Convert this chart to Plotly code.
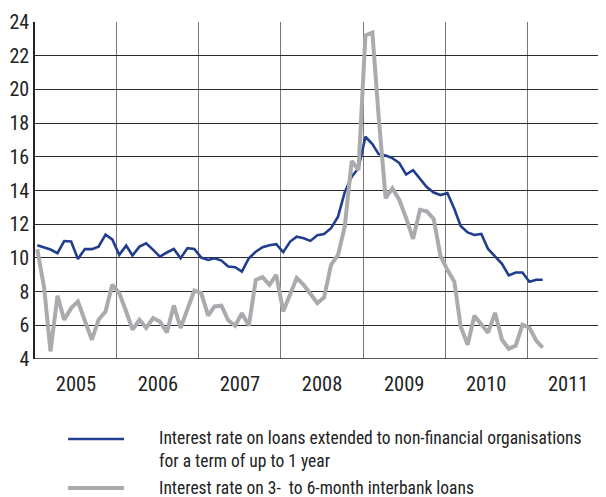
import pandas as pd
import plotly.graph_objects as go

# monthly observations, Jan 2005 onwards (per cent)
loans_rate = [
    10.75, 10.6, 10.5, 10.28, 11.0, 10.97, 9.94, 10.53, 10.52, 10.67, 11.38, 11.1,
    10.18, 10.73, 10.14, 10.67, 10.87, 10.48, 10.08, 10.32, 10.53, 9.98, 10.58, 10.53,
    10.02, 9.88, 9.98, 9.84, 9.49, 9.45, 9.19, 9.98, 10.37, 10.63, 10.75, 10.81,
    10.34, 10.97, 11.26, 11.17, 11.01, 11.35, 11.42, 11.76, 12.45, 13.9, 14.82, 15.32,
    17.19, 16.75, 16.16, 16.08, 15.92, 15.63, 14.95, 15.21, 14.72, 14.21, 13.88, 13.73,
    13.85, 12.9, 11.9, 11.51, 11.36, 11.42, 10.53, 10.08, 9.65, 8.96, 9.13, 9.13,
    8.58, 8.7, 8.7,
]
interbank_rate = [
    10.52, 8.2, 4.45, 7.75, 6.33, 7.02, 7.41, 6.23, 5.14, 6.33, 6.82, 8.4,
    7.91, 6.82, 5.74, 6.33, 5.84, 6.43, 6.23, 5.58, 7.18, 5.84, 7.02, 8.06,
    7.91, 6.57, 7.12, 7.16, 6.3, 5.97, 6.72, 5.97, 8.7, 8.86, 8.4, 8.99,
    6.82, 7.81, 8.8, 8.4, 7.91, 7.32, 7.65, 9.59, 10.18, 11.86, 15.75, 15.21,
    23.2, 23.37, 18.37, 13.54, 14.13, 13.44, 12.37, 11.13, 12.85, 12.76, 12.31, 10.12,
    9.29, 8.58, 5.93, 4.85, 6.57, 6.09, 5.56, 6.74, 5.14, 4.61, 4.79, 6.03,
    5.85, 5.08, 4.67,
]
months = pd.date_range("2005-01-01", periods=len(loans_rate), freq="MS") + pd.Timedelta(days=10)

names = [
    "Interest rate on loans extended to non-financial organisations<br>for a term of up to 1 year",
    "Interest rate on 3-  to 6-month interbank loans",
]
FONT = "Roboto Condensed, DejaVu Sans Condensed, sans-serif"
BLUE = "#213d8f"
GREY = "#aaabae"

fig = go.Figure()
fig.add_trace(go.Scatter(x=months, y=loans_rate, mode="lines", name=names[0],
                         line=dict(color=BLUE, width=2.6)))
fig.add_trace(go.Scatter(x=months, y=interbank_rate, mode="lines", name=names[1],
                         line=dict(color=GREY, width=4)))

# page body adds an 8px offset, so margins are trimmed to compensate
fig.update_layout(
    width=606, height=497,
    margin=dict(l=27, r=8, t=14, b=146),
    plot_bgcolor="white", paper_bgcolor="white",
    showlegend=False,
    font=dict(family=FONT, color="#222222"),
)
fig.update_xaxes(
    type="date", automargin=False,
    range=["2005-01-01", "2011-12-18"],
    dtick="M12", tick0="2005-01-01", tickformat="%Y", ticklabelmode="period",
    showgrid=True, gridcolor="#777777", gridwidth=1.3,
    showline=False, zeroline=False, ticks="",
    tickfont=dict(size=20.5), ticklabelstandoff=10,
)
fig.update_yaxes(
    automargin=False,
    range=[4, 24], dtick=2,
    showgrid=True, gridcolor="#2a2a2a", gridwidth=1,
    showline=True, linecolor="#222222", linewidth=1.5,
    zeroline=False, ticks="",
    tickfont=dict(size=20),
)
# bottom axis line at 4
fig.add_hline(y=4, line=dict(color="#222222", width=1.5))

# hand-drawn legend under the plot
for name, colour, width, ly, ty in [
    (names[0], BLUE, 2.6, -0.2375, -0.2686),
    (names[1], GREY, 4, -0.3828, -0.3825),
]:
    fig.add_shape(type="line", xref="paper", yref="paper",
                  x0=0.058, x1=0.156, y0=ly, y1=ly,
                  line=dict(color=colour, width=width))
    fig.add_annotation(xref="paper", yref="paper", x=0.2137, y=ty,
                       xanchor="left", yanchor="middle", align="left",
                       text=name, showarrow=False,
                       font=dict(size=17.5, family=FONT, color="#222222"))

fig.write_html("out.html")
